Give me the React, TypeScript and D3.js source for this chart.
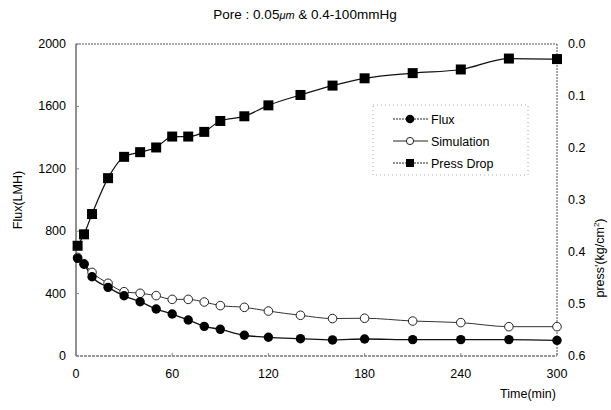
import * as d3 from 'd3';

const fluxTime = [1, 5, 10, 20, 30, 40, 50, 60, 70, 80, 90, 105, 120, 140, 160, 180, 210, 240, 270, 300];
const fluxValues = [626, 588, 508, 440, 386, 348, 301, 269, 231, 190, 171, 133, 120, 111, 103, 109, 105, 105, 105, 100];

const simTime = [1, 5, 10, 20, 30, 40, 50, 60, 70, 80, 90, 105, 120, 140, 160, 180, 210, 240, 270, 300];
const simValues = [632, 592, 536, 466, 412, 402, 387, 363, 363, 346, 323, 312, 288, 261, 240, 242, 224, 214, 188, 188];

const pressTime = [1, 5, 10, 20, 30, 40, 50, 60, 70, 80, 90, 105, 120, 140, 160, 180, 210, 240, 270, 300];
const pressValues = [0.388, 0.366, 0.327, 0.258, 0.217, 0.208, 0.199, 0.178, 0.178, 0.169, 0.148, 0.139, 0.118, 0.098, 0.08, 0.066, 0.056, 0.049, 0.028, 0.029];

const xTicks = [0, 60, 120, 180, 240, 300];
const yTicks = [0, 400, 800, 1200, 1600, 2000];
const y2Ticks = [0.0, 0.1, 0.2, 0.3, 0.4, 0.5, 0.6];

const legendLabels = ['Flux', 'Simulation', 'Press Drop'];

export default function App() {
  const width = 611;
  const height = 410;
  const margin = { top: 44, right: 54, bottom: 54, left: 76 };
  const font = '"Liberation Sans", Arial, sans-serif';

  const x = d3.scaleLinear().domain([0, 300]).range([margin.left, width - margin.right]);
  const y = d3.scaleLinear().domain([0, 2000]).range([height - margin.bottom, margin.top]);
  const y2 = d3.scaleLinear().domain([0, 0.6]).range([margin.top, height - margin.bottom]);

  const line = d3.line<[number, number]>().x(d => d[0]).y(d => d[1]).curve(d3.curveMonotoneX);

  const fluxPts: [number, number][] = fluxTime.map((t, i) => [x(t), y(fluxValues[i])]);
  const simPts: [number, number][] = simTime.map((t, i) => [x(t), y(simValues[i])]);
  const pressPts: [number, number][] = pressTime.map((t, i) => [x(t), y2(pressValues[i])]);

  const x0 = x(0), x1 = x(300), yb = y(0), yt = y(2000);

  const lx = 373, ly = 105;

  return (
    <svg width={width} height={height} style={{ position: 'absolute', left: 0, top: 0, background: '#fff' }} fontFamily={font}>
      <text x={305} y={19} textAnchor="middle" fontSize={13.5}>
        Pore : 0.05<tspan fontStyle="italic" fontSize={11}>μm</tspan> &amp; 0.4-100mmHg
      </text>

      {/* frame */}
      <line x1={x0} x2={x1} y1={yt} y2={yt} stroke="#555" strokeDasharray="2,1" />
      <line x1={x1} x2={x1} y1={yt} y2={yb} stroke="#555" strokeDasharray="2,1" />
      <line x1={x0} x2={x1} y1={yb} y2={yb} stroke="#333" strokeDasharray="3,1" />
      <line x1={x0} x2={x0} y1={yt} y2={yb} stroke="#222" />

      {/* left ticks */}
      {yTicks.map(v => (
        <g key={'y' + v}>
          <line x1={x0} x2={x0 + 3} y1={y(v)} y2={y(v)} stroke="#888" />
          <text x={x0 - 10} y={y(v) + 4} textAnchor="end" fontSize={12.5}>{v}</text>
        </g>
      ))}
      {/* right ticks */}
      {y2Ticks.map(v => (
        <text key={'r' + v} x={x1 + 11} y={y2(v) + 4} fontSize={12.5}>{v.toFixed(1)}</text>
      ))}
      {/* x ticks */}
      {xTicks.map(v => (
        <g key={'x' + v}>
          <line x1={x(v)} x2={x(v)} y1={yb} y2={yb - 3} stroke="#888" />
          <text x={x(v)} y={yb + 22} textAnchor="middle" fontSize={12.5}>{v}</text>
        </g>
      ))}

      <text transform={`translate(22,${(yt + yb) / 2}) rotate(-90)`} textAnchor="middle" fontSize={12.5}>Flux(LMH)</text>
      <text transform={`translate(604,258) rotate(-90)`} textAnchor="middle" fontSize={12.5}>
        press'(kg/cm<tspan fontSize={8} dy={-5}>2</tspan><tspan dy={5}>)</tspan>
      </text>
      <text x={528} y={398} textAnchor="middle" fontSize={12.5}>Time(min)</text>

      {/* series */}
      <path d={line(simPts) ?? ''} fill="none" stroke="#333" strokeWidth={1} />
      <path d={line(fluxPts) ?? ''} fill="none" stroke="#111" strokeWidth={1.3} />
      <path d={line(pressPts) ?? ''} fill="none" stroke="#111" strokeWidth={1.2} />

      {simPts.map((p, i) => (
        <circle key={'s' + i} cx={p[0]} cy={p[1]} r={4.3} fill="#fff" stroke="#222" strokeWidth={1} />
      ))}
      {fluxPts.map((p, i) => (
        <circle key={'f' + i} cx={p[0]} cy={p[1]} r={4.7} fill="#000" />
      ))}
      {pressPts.map((p, i) => (
        <rect key={'p' + i} x={p[0] - 5} y={p[1] - 5} width={10} height={10} fill="#000" />
      ))}

      {/* legend */}
      <rect x={lx} y={ly} width={155} height={70} fill="#fff" stroke="#aaa" strokeDasharray="1,3" />
      {legendLabels.map((lab, i) => {
        const cy = 119 + i * 22;
        return (
          <g key={lab}>
            <line x1={393} x2={428} y1={cy} y2={cy} stroke="#222" strokeDasharray={i === 1 ? undefined : '2,1'} />
            {i === 0 && <circle cx={410} cy={cy} r={4.3} fill="#000" />}
            {i === 1 && <circle cx={410} cy={cy} r={3.6} fill="#fff" stroke="#222" />}
            {i === 2 && <rect x={406} y={cy - 4} width={8} height={8} fill="#000" />}
            <text x={431} y={cy + 5} fontSize={12.5}>{lab}</text>
          </g>
        );
      })}
    </svg>
  );
}
